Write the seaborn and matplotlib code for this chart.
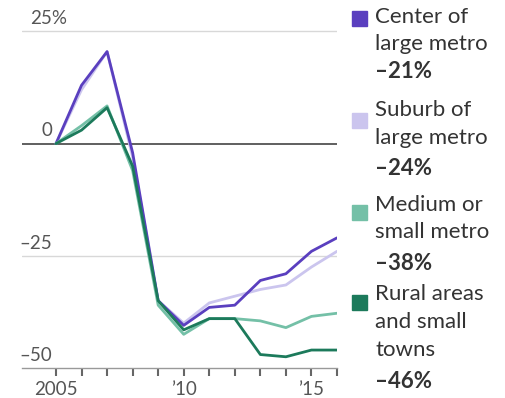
import matplotlib
matplotlib.use("Agg")
import matplotlib.pyplot as plt
from matplotlib.patches import Rectangle
import seaborn as sns
import pandas as pd

years = list(range(2005, 2017))
center = [0, 13, 20.5, -2, -35, -40.5, -36.5, -36, -30.5, -29, -24, -21]
suburb = [0, 12, 20.5, -3, -35, -40, -35.5, -34, -32.5, -31.5, -27.5, -24]
medium = [0, 4, 8.4, -6, -36, -42.5, -39, -39, -39.5, -41, -38.5, -37.8]
rural = [0, 3, 8, -5, -35, -41.5, -39, -39, -47, -47.5, -46, -46]

names = ["Center of large metro", "Suburb of large metro",
         "Medium or small metro", "Rural areas and small towns"]
colors = ["#5a3fbf", "#cbc5ee", "#74c0a7", "#1c7a5b"]
legend_lines = [["Center of", "large metro"], ["Suburb of", "large metro"],
                ["Medium or", "small metro"], ["Rural areas", "and small", "towns"]]
finals = ["–21%", "–24%", "–38%", "–46%"]
ytick_vals = [25, 0, -25, -50]
ytick_labels = ["25%", "0", "–25", "–50"]
xtick_vals = [2005, 2010, 2015]
xtick_labels = ["2005", "’10", "’15"]

sns.set_style("white")
plt.rcParams["font.family"] = ["Lato", "DejaVu Sans"]

df = pd.DataFrame({
    "year": years * 4,
    "value": center + suburb + medium + rural,
    "series": sum([[n] * len(years) for n in names], []),
})

W, H = 506, 398
fig = plt.figure(figsize=(W / 100, H / 100), dpi=100)
ax = fig.add_axes([22 / W, 30 / H, 315 / W, 368 / H])

draw_order = [names[1], names[0], names[2], names[3]]
palette = dict(zip(names, colors))
sns.lineplot(data=df, x="year", y="value", hue="series", hue_order=draw_order,
             palette=palette, linewidth=2.0, legend=False, ax=ax, zorder=3)

ax.set_xlim(2003.67, 2016)
ax.set_ylim(-50, 32)
for s in ["top", "right", "left"]:
    ax.spines[s].set_visible(False)
ax.spines["bottom"].set_color("#999999")
ax.spines["bottom"].set_linewidth(1.0)
ax.axhline(0, color="#444444", lw=1.2, zorder=2)
for v in [25, -25]:
    ax.axhline(v, color="#d8d8d8", lw=1.0, zorder=1)

ax.set_yticks([])
ax.set_xticks(years)
ax.set_xticklabels([])
ax.tick_params(axis="x", which="major", bottom=True, top=False, direction="out",
               length=6, width=1.5, colors="#666666", labelbottom=False)
ax.set_ylabel("")
ax.set_xlabel("")

for xv, lab in zip(xtick_vals, xtick_labels):
    ax.annotate(lab, xy=(xv, -50), xycoords="data", xytext=(0, -15.5),
                textcoords="offset points", ha="center", va="center",
                fontsize=13.5, color="#555555", annotation_clip=False)

for v, lab in zip(ytick_vals, ytick_labels):
    if lab.endswith("%"):
        ax.annotate(lab, xy=(0.025, v), xycoords=ax.get_yaxis_transform(),
                    xytext=(0, 3), textcoords="offset points", ha="left",
                    va="bottom", fontsize=13.5, color="#555555")
    else:
        ax.annotate(lab, xy=(0.095, v), xycoords=ax.get_yaxis_transform(),
                    xytext=(0, 3), textcoords="offset points", ha="right",
                    va="bottom", fontsize=13.5, color="#555555")

sq_tops = [11, 113, 205, 295]
line_centers = [[17, 44], [110, 138], [205, 232], [294, 322, 350]]
final_centers = [72, 168, 264, 381]
for i in range(4):
    fig.patches.append(Rectangle((352 / W, 1 - (sq_tops[i] + 15) / H), 15 / W, 15 / H,
                                 transform=fig.transFigure, color=colors[i]))
    for txt, yc in zip(legend_lines[i], line_centers[i]):
        fig.text(375 / W, 1 - yc / H, txt, ha="left", va="center", fontsize=16,
                 color="#333333")
    fig.text(375 / W, 1 - final_centers[i] / H, finals[i], ha="left", va="center",
             fontsize=16, color="#333333", fontweight="bold")

fig.savefig("out.png", dpi=100)
